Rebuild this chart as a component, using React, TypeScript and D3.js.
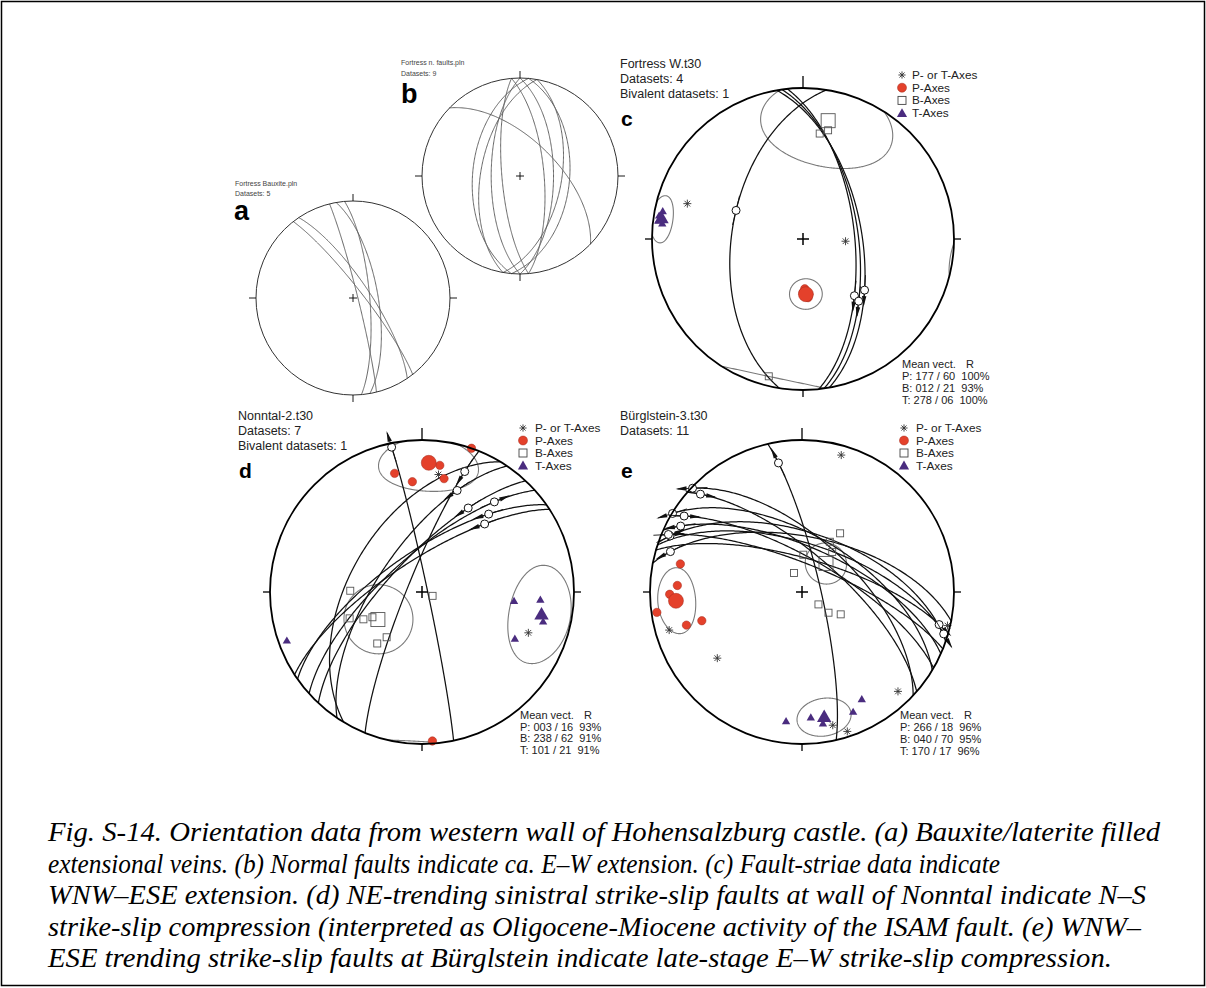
import React from "react";
import * as d3 from "d3";

// ---------------- DATA ----------------
// Great circles of planes: [dip direction, dip] (degrees)
const PLANES_A = [[52, 82], [56, 76], [76, 86], [80, 69], [85, 76]];
const PLANES_B = [[275, 50], [280, 57], [270, 66], [265, 75], [95, 48], [100, 55], [90, 62], [85, 70], [44, 60]];
const PLANES_D_EXTRA = [[301, 51]];

// Fault-slip data: [dip direction, dip, rake of striae from strike, sense (+1 / -1 / 0)]
const FAULTS_C = [[84, 62, 122.7, 1], [82, 60, 126.7, 1], [80, 58, 122, 1], [279, 51, 99, 0]];
const FAULTS_D = [[78, 87, 3, -1], [292, 82, 162.8, -1], [325, 69, 144.3, -1], [318, 71, 153.5, 1], [313, 72, 140.7, -1], [304, 66, 146.8, -1], [327, 73, 138.8, -1]];
const FAULTS_E = [[43, 62, 1, -1], [41, 70, 8.5, 1], [31, 60, 0.5, -1], [30, 72, 9, 1], [24, 66, 11, -1], [19, 58, 7.5, 1], [11, 60, 12, -1], [16, 72, 171.5, 1], [18, 64, 176.5, 1], [77, 80, 15, -1], [22, 75, 5, 1]];

// Axes: [trend, plunge]
const P_AXES_C = [[175, 58], [180, 61], [178, 63], [174, 60]];
const T_AXES_C = [[279, 4], [276, 7], [281, 6], [277, 4]];
const B_AXES_C = [[9, 30], [13, 27], [194, 7]];
const PT_AXES_C = [[287, 21], [93, 67]];
const MEAN_C = [[177, 60], [12, 21], [278, 6]]; // P, B, T
const R_C = [100, 93, 100];
const CONES_C = [[177, 60, 8.5, 8.5], [12, 21, 28, 30], [278, 6, 8, 9.5]]; // trend, plunge, radial, tangential semi-angle

const P_AXES_D = [[19, 0], [8, 17], [11, 25], [355, 28], [347, 21], [176, 2]];
const T_AXES_D = [[96, 39], [94, 23], [117, 32], [104, 19], [250, 6]];
const B_AXES_D = [[271, 51], [250, 48], [245, 55], [243, 60], [218, 59], [221, 53], [110, 84]];
const PT_AXES_D = [[8, 23], [111, 26]];
const MEAN_D = [[3, 16], [238, 62], [101, 21]];
const R_D = [93, 91, 91];
const CONES_D = [[3, 16, 18, 21.5], [238, 62, 19, 18], [101, 21, 20, 22]];

const P_AXES_E = [[283, 19], [273, 19], [269, 14], [262, 4], [254, 22], [254, 32]];
const T_AXES_E = [[187, 15], [176, 18], [171, 13], [157, 15], [151, 20]];
const B_AXES_E = [[33, 52], [29, 59], [37, 63], [2, 70], [337, 79], [127, 79], [128, 72], [120, 66]];
const PT_AXES_E = [[16, 7], [103, 2], [254, 10], [232, 30], [136, 10], [167, 11], [162, 4]];
const MEAN_E = [[266, 18], [40, 70], [170, 17]];
const R_E = [96, 95, 96];
const CONES_E = [[266, 18, 12.5, 14.3], [40, 70, 11, 11], [170, 17, 12.5, 11.7]];

const HEAD_A = ["Fortress Bauxite.pln", "Datasets: 5"];
const HEAD_B = ["Fortress n. faults.pln", "Datasets: 9"];
const HEAD_C = ["Fortress W.t30", "Datasets: 4", "Bivalent datasets: 1"];
const HEAD_D = ["Nonntal-2.t30", "Datasets: 7", "Bivalent datasets: 1"];
const HEAD_E = ["Bürglstein-3.t30", "Datasets: 11"];
const LEGEND = ["P- or T-Axes", "P-Axes", "B-Axes", "T-Axes"];
const MEAN_LABELS = ["P", "B", "T"];

const CAPTION = [
  "Fig. S-14. Orientation data from western wall of Hohensalzburg castle. (a) Bauxite/laterite filled",
  "extensional veins. (b) Normal faults indicate ca. E\u2013W extension. (c) Fault-striae data indicate",
  "WNW\u2013ESE extension. (d) NE-trending sinistral strike-slip faults at wall of Nonntal indicate N\u2013S",
  "strike-slip compression (interpreted as Oligocene-Miocene activity of the ISAM fault. (e) WNW\u2013",
  "ESE trending strike-slip faults at Bürglstein indicate late-stage E\u2013W strike-slip compression.",
];
const CAPTION_WIDTHS = [1112, 952, 1098, 1093, 1064];

// ---------------- GEOMETRY ----------------
const W = 1206, H = 988;
const rad = Math.PI / 180;
const RED = "#e4412b", RED_S = "#a3281a", PURPLE = "#4a2c7f";
const NB = "\u00a0";

type V3 = number[];
function lineVec(trend: number, plunge: number): V3 {
  const t = trend * rad, p = plunge * rad;
  return [Math.cos(p) * Math.cos(t), Math.cos(p) * Math.sin(t), Math.sin(p)];
}
function planePoint(dd: number, dip: number, theta: number): V3 {
  const s = (dd - 90) * rad, d = dd * rad, dp = dip * rad, th = theta * rad;
  return [
    Math.cos(th) * Math.cos(s) + Math.sin(th) * Math.cos(dp) * Math.cos(d),
    Math.cos(th) * Math.sin(s) + Math.sin(th) * Math.cos(dp) * Math.sin(d),
    Math.sin(th) * Math.sin(dp),
  ];
}
function conePoints(trend: number, plunge: number, ar: number, at: number): V3[] {
  const a = lineVec(trend, plunge);
  const t = trend * rad, p = plunge * rad;
  const u = [-Math.sin(p) * Math.cos(t), -Math.sin(p) * Math.sin(t), Math.cos(p)];
  const v = [-Math.sin(t), Math.cos(t), 0];
  return d3.range(0, 360, 1).map((deg) => {
    const s = deg * rad;
    const rho = ((ar * at) / Math.sqrt((at * Math.cos(s)) ** 2 + (ar * Math.sin(s)) ** 2)) * rad;
    const c = Math.cos(rho), sn = Math.sin(rho);
    return [0, 1, 2].map((i) => c * a[i] + sn * (Math.cos(s) * u[i] + Math.sin(s) * v[i]));
  });
}

function asteriskPath(x: number, y: number, r: number) {
  let s = "";
  [0, 45, 90, 135].forEach((ang) => {
    const dx = r * Math.cos(ang * rad), dy = r * Math.sin(ang * rad);
    s += `M${x - dx},${y - dy}L${x + dx},${y + dy}`;
  });
  return s;
}
const triSym = (size: number) => d3.symbol().type(d3.symbolTriangle).size(size)() as string;

function Net(props: any) {
  const { cx, cy, R, heavy, planes = [], faults = [], cones = [], pAxes = [], bAxes = [], tAxes = [], ptAxes = [], means } = props;
  const xs = d3.scaleLinear().domain([-1, 1]).range([cx - R, cx + R]);
  const ys = d3.scaleLinear().domain([-1, 1]).range([cy + R, cy - R]);
  const proj = (v0: V3): [number, number] => {
    let [n, e, dn] = v0;
    if (dn < 0) { n = -n; e = -e; dn = -dn; }
    const k = 1 / Math.sqrt(1 + dn);
    return [xs(e * k), ys(n * k)];
  };
  const line = d3.line();
  const gc = (dd: number, dip: number) => line(d3.range(0, 180.001, 1).map((th) => proj(planePoint(dd, dip, th)))) as string;
  const pt = (tp: number[]) => proj(lineVec(tp[0], tp[1]));
  const lc = heavy ? "#111" : "#5e5e5e";
  const lw = heavy ? 1.25 : 0.95;

  const conePaths: string[] = [];
  cones.forEach((c: number[]) => {
    const pts = conePoints(c[0], c[1], c[2], c[3]);
    const flags = pts.map((q) => q[2] >= 0);
    let k = flags.findIndex((f, i) => i > 0 && f !== flags[i - 1]);
    if (k < 0 && flags[0] !== flags[flags.length - 1]) k = 0;
    if (k < 0) {
      conePaths.push((line(pts.map(proj)) as string) + "Z");
      return;
    }
    const rot = pts.slice(k).concat(pts.slice(0, k));
    const rf = flags.slice(k).concat(flags.slice(0, k));
    let run: V3[] = [rot[0]];
    for (let i = 1; i < rot.length; i++) {
      if (rf[i] !== rf[i - 1]) { conePaths.push(line(run.map(proj)) as string); run = []; }
      run.push(rot[i]);
    }
    if (run.length) conePaths.push(line(run.map(proj)) as string);
  });

  const markers = faults.map((f: number[], i: number) => {
    const [dd, dip, rake, sense] = f;
    const p0 = proj(planePoint(dd, dip, rake));
    const ta = Math.min(179.9, rake + 0.7), tb = Math.max(0.1, rake - 0.7);
    const pa = proj(planePoint(dd, dip, ta)), pb = proj(planePoint(dd, dip, tb));
    let tx = pa[0] - pb[0], ty = pa[1] - pb[1];
    const L = Math.hypot(tx, ty) || 1; tx /= L; ty /= L;
    const nx = -ty, ny = tx;
    const len = 15;
    let head = null;
    if (sense !== 0) {
      const sx = sense * tx, sy = sense * ty;
      const tip = [p0[0] + sx * (len + 2), p0[1] + sy * (len + 2)];
      const base = [p0[0] + sx * 6, p0[1] + sy * 6];
      head = `M${tip[0]},${tip[1]}L${base[0] + nx * 2.2},${base[1] + ny * 2.2}L${base[0] - nx * 2.2},${base[1] - ny * 2.2}Z`;
    }
    return (
      <g key={"m" + i}>
        <line x1={p0[0] - tx * len} y1={p0[1] - ty * len} x2={p0[0] + tx * len} y2={p0[1] + ty * len} stroke="#111" strokeWidth={0.9} />
        {head && <path d={head} fill="#111" />}
        <circle cx={p0[0]} cy={p0[1]} r={4} fill="#fff" stroke="#111" strokeWidth={1} />
      </g>
    );
  });

  return (
    <g>
      {conePaths.map((d, i) => <path key={"c" + i} d={d} fill="none" stroke="#7a7a7a" strokeWidth={1.1} />)}
      {planes.map((p: number[], i: number) => <path key={"p" + i} d={gc(p[0], p[1])} fill="none" stroke={lc} strokeWidth={lw} />)}
      {faults.map((f: number[], i: number) => <path key={"f" + i} d={gc(f[0], f[1])} fill="none" stroke={lc} strokeWidth={lw} />)}
      {markers}
      {bAxes.map((b: number[], i: number) => { const [x, y] = pt(b); return <rect key={"b" + i} x={x - 3.5} y={y - 3.5} width={7} height={7} fill="none" stroke="#555" strokeWidth={0.9} />; })}
      {ptAxes.map((b: number[], i: number) => { const [x, y] = pt(b); return <path key={"a" + i} d={asteriskPath(x, y, 4)} stroke="#333" strokeWidth={0.9} />; })}
      {pAxes.map((b: number[], i: number) => { const [x, y] = pt(b); return <circle key={"pp" + i} cx={x} cy={y} r={4.2} fill={RED} stroke={RED_S} strokeWidth={0.5} />; })}
      {tAxes.map((b: number[], i: number) => { const [x, y] = pt(b); return <path key={"t" + i} d={triSym(30)} transform={`translate(${x},${y})`} fill={PURPLE} />; })}
      {means && (() => {
        const [P, B, T] = means.map(pt);
        return (
          <g>
            <rect x={B[0] - 7} y={B[1] - 7} width={14} height={14} fill="none" stroke="#555" strokeWidth={0.9} />
            <circle cx={P[0]} cy={P[1]} r={7.5} fill={RED} stroke={RED_S} strokeWidth={0.5} />
            <path d={triSym(90)} transform={`translate(${T[0]},${T[1]})`} fill={PURPLE} />
          </g>
        );
      })()}
      <circle cx={cx} cy={cy} r={R} fill="none" stroke={heavy ? "#000" : "#333"} strokeWidth={heavy ? 1.8 : 1} />
      <line x1={cx} y1={cy - R} x2={cx} y2={cy - R - (heavy ? 12 : 7)} stroke="#000" strokeWidth={heavy ? 1.3 : 0.9} />
      <line x1={cx + R} y1={cy} x2={cx + R + 7} y2={cy} stroke="#000" strokeWidth={heavy ? 1.3 : 0.9} />
      <line x1={cx - R} y1={cy} x2={cx - R - 7} y2={cy} stroke="#000" strokeWidth={heavy ? 1.3 : 0.9} />
      <line x1={cx} y1={cy + R} x2={cx} y2={cy + R + 7} stroke="#000" strokeWidth={heavy ? 1.3 : 0.9} />
      <path d={`M${cx - (heavy ? 6 : 4)},${cy}H${cx + (heavy ? 6 : 4)}M${cx},${cy - (heavy ? 6 : 4)}V${cy + (heavy ? 6 : 4)}`} stroke="#000" strokeWidth={heavy ? 1.5 : 0.9} />
    </g>
  );
}

function Header({ x, y, lines, size, step, color }: any) {
  return (
    <g fill={color} fontSize={size}>
      {lines.map((t: string, i: number) => <text key={i} x={x} y={y + i * step}>{t}</text>)}
    </g>
  );
}

function Legend({ sx, tx, y0, step }: any) {
  return (
    <g fontSize={11.8} fill="#222">
      {LEGEND.map((t, i) => {
        const y = y0 + i * step;
        let sym = null;
        if (i === 0) sym = <path d={asteriskPath(sx, y, 3.6)} stroke="#333" strokeWidth={0.9} />;
        if (i === 1) sym = <circle cx={sx} cy={y} r={4.5} fill={RED} stroke={RED_S} strokeWidth={0.5} />;
        if (i === 2) sym = <rect x={sx - 4} y={y - 4} width={8} height={8} fill="none" stroke="#444" strokeWidth={0.9} />;
        if (i === 3) sym = <path d={triSym(45)} transform={`translate(${sx},${y + 1})`} fill={PURPLE} />;
        return (
          <g key={i}>
            {sym}
            <text x={tx} y={y + 4}>{t}</text>
          </g>
        );
      })}
    </g>
  );
}

const pad = (n: number, w: number) => String(n).padStart(w, "0");
function MeanText({ x, y, means, rs, step }: any) {
  return (
    <g fontSize={11} fill="#222">
      <text x={x} y={y}>{"Mean vect."}</text>
      <text x={x + 64} y={y}>R</text>
      {means.map((m: number[], i: number) => (
        <text key={i} x={x} y={y + (i + 1) * step}>{`${MEAN_LABELS[i]}: ${pad(m[0], 3)} / ${pad(m[1], 2)}${NB}${NB}${rs[i]}%`}</text>
      ))}
    </g>
  );
}

export default function App() {
  return (
    <svg width={W} height={H} viewBox={`0 0 ${W} ${H}`} style={{ position: "absolute", left: 0, top: 0, background: "#fff" }} fontFamily="'Liberation Sans', Arial, sans-serif">
      <rect x={0} y={0} width={W} height={H} fill="#fff" />
      <rect x={1.5} y={1.5} width={W - 3} height={H - 4} fill="none" stroke="#000" strokeWidth={1.5} />

      {/* a */}
      <Net cx={353} cy={298} R={97} planes={PLANES_A} />
      <Header x={235} y={185.5} lines={HEAD_A} size={7} step={10} color="#444" />
      <text x={234} y={220} fontSize={27} fontWeight="bold">a</text>

      {/* b */}
      <Net cx={520} cy={176} R={98} planes={PLANES_B} />
      <Header x={401} y={64.5} lines={HEAD_B} size={7} step={11} color="#444" />
      <text x={401} y={103} fontSize={27} fontWeight="bold">b</text>

      {/* c */}
      <Net cx={803} cy={239} R={151} heavy faults={FAULTS_C} cones={CONES_C} pAxes={P_AXES_C} tAxes={T_AXES_C} bAxes={B_AXES_C} ptAxes={PT_AXES_C} means={MEAN_C} />
      <Header x={620} y={68} lines={HEAD_C} size={12.5} step={15} color="#222" />
      <text x={621} y={126} fontSize={21} fontWeight="bold">c</text>
      <Legend sx={902} tx={912} y0={75} step={12.7} />
      <MeanText x={902} y={368} means={MEAN_C} rs={R_C} step={12} />

      {/* d */}
      <Net cx={422} cy={592} R={152} heavy planes={PLANES_D_EXTRA} faults={FAULTS_D} cones={CONES_D} pAxes={P_AXES_D} tAxes={T_AXES_D} bAxes={B_AXES_D} ptAxes={PT_AXES_D} means={MEAN_D} />
      <Header x={238} y={420} lines={HEAD_D} size={12.5} step={15} color="#222" />
      <text x={239} y={478} fontSize={21} fontWeight="bold">d</text>
      <Legend sx={523} tx={535} y0={428} step={12.5} />
      <MeanText x={520} y={719} means={MEAN_D} rs={R_D} step={11.7} />

      {/* e */}
      <Net cx={802} cy={592} R={152} heavy faults={FAULTS_E} cones={CONES_E} pAxes={P_AXES_E} tAxes={T_AXES_E} bAxes={B_AXES_E} ptAxes={PT_AXES_E} means={MEAN_E} />
      <Header x={620} y={420} lines={HEAD_E} size={12.5} step={15} color="#222" />
      <text x={621} y={478} fontSize={21} fontWeight="bold">e</text>
      <Legend sx={904} tx={916} y0={428} step={12.5} />
      <MeanText x={900} y={719} means={MEAN_E} rs={R_E} step={12} />

      {/* caption */}
      <g fontFamily="'Liberation Serif', 'Times New Roman', serif" fontStyle="italic" fontSize={26.5} fill="#000">
        {CAPTION.map((t, i) => (
          <text key={i} x={48} y={841 + i * 31.5} textLength={CAPTION_WIDTHS[i]} lengthAdjust="spacingAndGlyphs">{t}</text>
        ))}
      </g>
    </svg>
  );
}
